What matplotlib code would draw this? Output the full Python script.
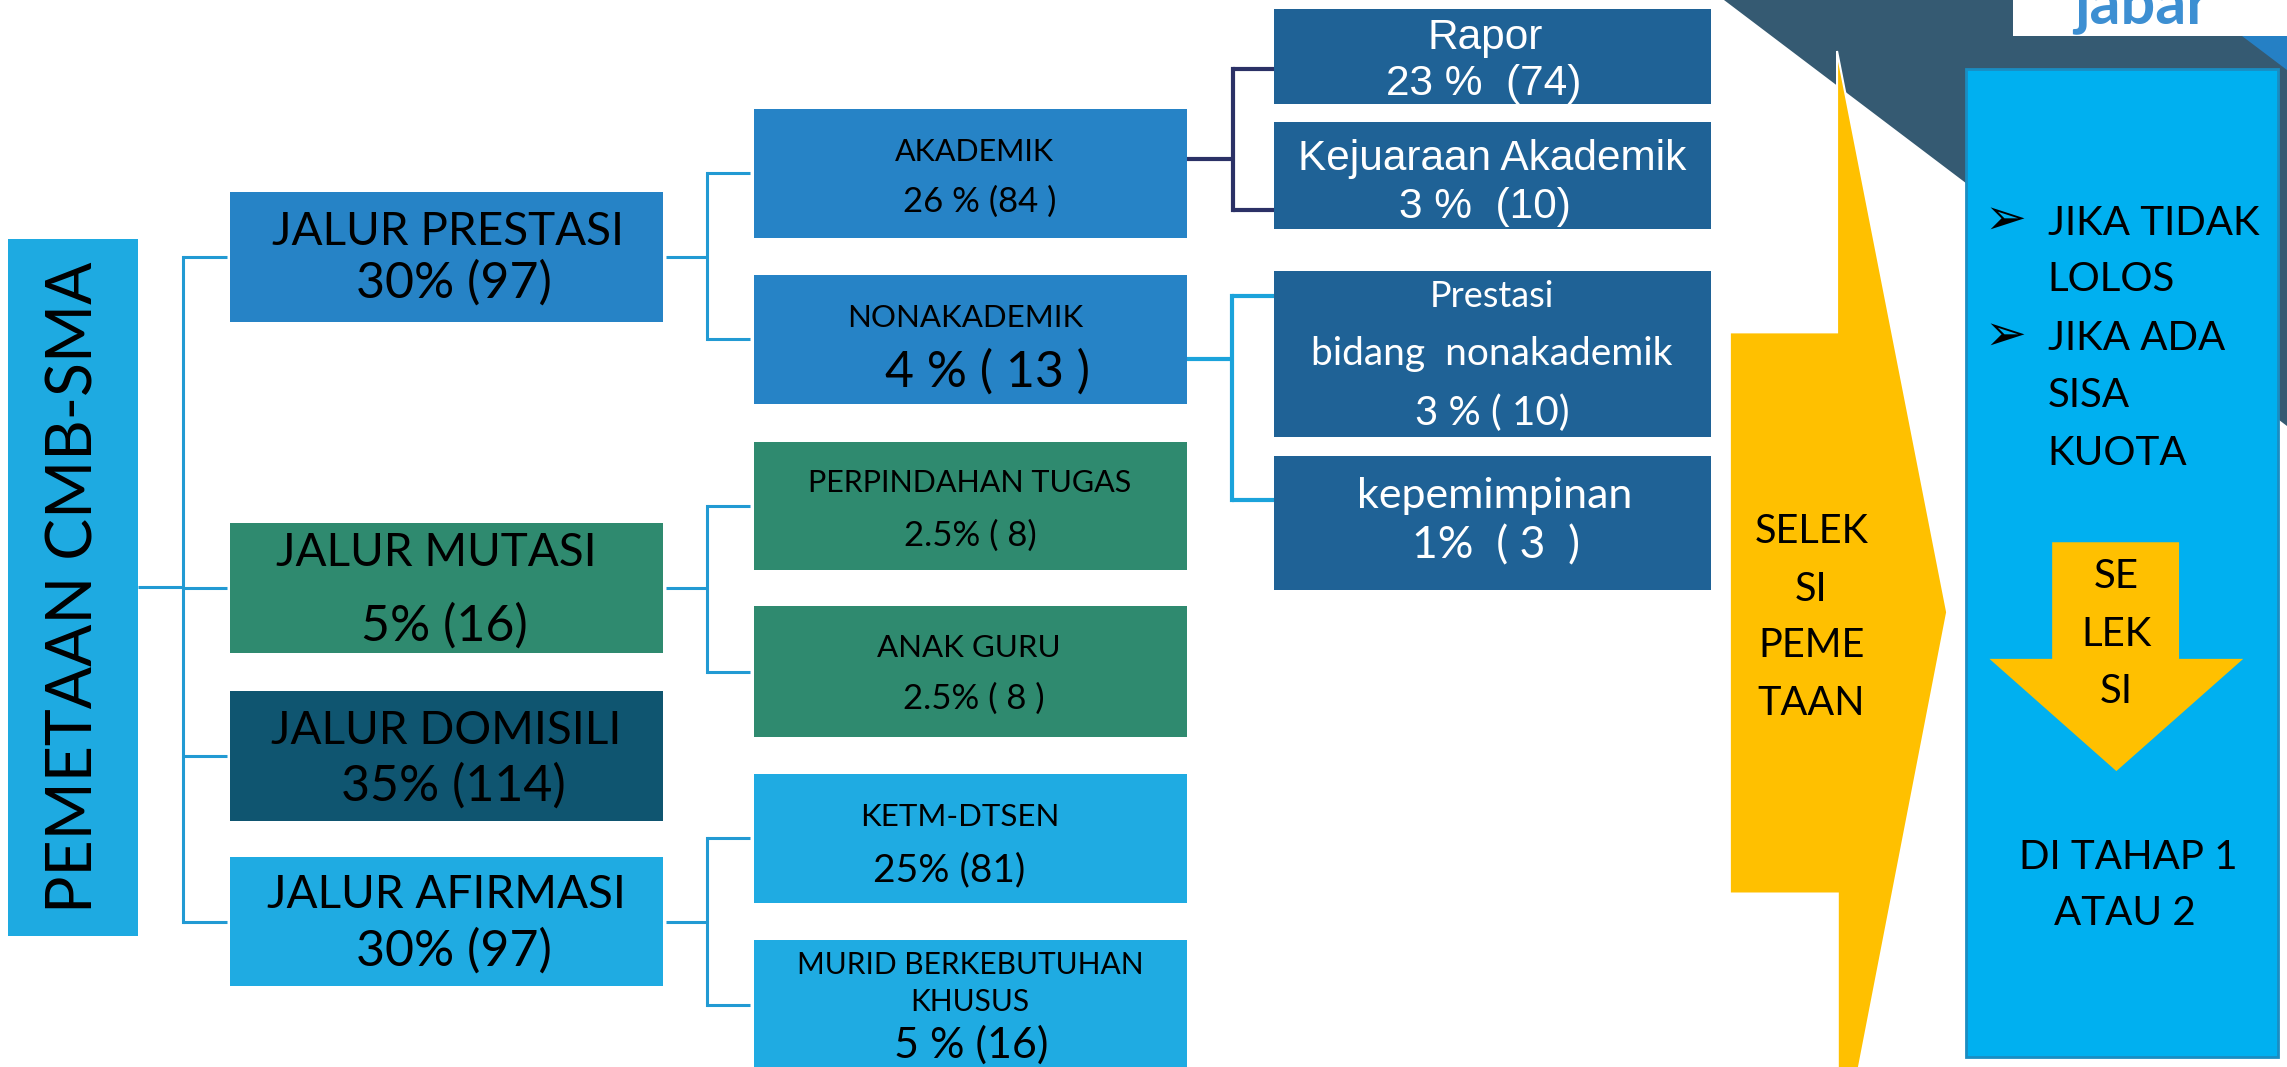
import matplotlib
matplotlib.use("Agg")
import matplotlib.pyplot as plt
from matplotlib.patches import Polygon, Rectangle

# ---- content -------------------------------------------------------------
root_label = "PEMETAAN CMB-SMA"

jalur_names = ["JALUR PRESTASI", "JALUR MUTASI", "JALUR DOMISILI", "JALUR AFIRMASI"]
jalur_values = ["30% (97)", "5% (16)", "35% (114)", "30% (97)"]

sub_names = ["AKADEMIK", "NONAKADEMIK", "PERPINDAHAN TUGAS", "ANAK GURU",
             "KETM-DTSEN", "MURID BERKEBUTUHAN\nKHUSUS"]
sub_values = ["26 % (84 )", "4 % ( 13 )", "2.5% ( 8)", "2.5% ( 8 )", "25% (81)", "5 % (16)"]
sub_parent = [0, 0, 1, 1, 3, 3]

detail_names = ["Rapor", "Kejuaraan Akademik", "Prestasi\nbidang  nonakademik", "kepemimpinan"]
detail_values = ["23 %  (74)", "3 %  (10)", "3 % ( 10)", "1%  ( 3  )"]

selection_label = ["SELEK", "SI", "PEME", "TAAN"]
note_lines = ["JIKA TIDAK", "LOLOS", "JIKA ADA", "SISA", "KUOTA"]
note_bullets = [True, False, True, False, False]
inner_arrow_label = ["SE", "LEK", "SI"]
stage_lines = ["DI TAHAP 1", "ATAU 2"]
logo_text = "jabar"

# ---- layout (canvas units: 1568 x 732, y down) ---------------------------
W, H = 1568, 732
FUT = ["Lato", "DejaVu Sans"]
ARI = ["Liberation Sans", "DejaVu Sans"]
K = 0.341  # half cap height per point, in canvas units

root_box = (5.7, 164, 94.9, 642)
col1_x = (157.7, 454.6)
col1_y = [(131.6, 220.8), (359, 448), (474, 563), (588, 676.5)]
col1_colors = ["#2683C6", "#2F8A6F", "#0F5570", "#1FABE2"]
col1_text = [[(307, 157), (311, 192)], [(299, 377), (305, 427)],
             [(306, 499), (311, 537)], [(306, 612), (311, 650)]]

col2_x = (516.7, 814)
col2_y = [(75, 163), (188.6, 277), (303, 391), (416, 505.5), (530.7, 619.3), (645, 740)]
col2_text = [[(668, 103, 22), (672, 137, 25)],
             [(662, 217, 22.5), (677, 253, 36)],
             [(665, 330, 22), (665, 366, 25)],
             [(664, 443, 22.5), (668, 478, 25)],
             [(658, 559, 22.5), (651, 595, 28)],
             [(665, 661, 21.5), (665, 686, 21.5), (666, 715, 31)]]

col3_x = (873.6, 1173)
col3_y = [(6.2, 71.5), (83.5, 157), (185.8, 300), (312.7, 404.5)]
col3_color = "#1F6296"
col3_text = [[(1018, 23, 30.5, ARI), (1017, 55, 30.5, ARI)],
             [(1023, 106, 30.5, ARI), (1018, 139, 30.5, ARI)],
             [(1023, 202, 26, FUT), (1023, 241, 28, FUT), (1023, 282, 29, FUT)],
             [(1025, 338, 31, FUT), (1026, 372, 32, FUT)]]

line_col = "#229AD3"

fig = plt.figure(figsize=(22.87, 10.67), dpi=100)
ax = fig.add_axes([0, 0, 1, 1])
ax.set_xlim(0, W)
ax.set_ylim(H, 0)
ax.axis("off")


def put(x, y, s, size, family=FUT, color="black", ha="center", **kw):
    ax.text(x, y + K * size, s, fontsize=size, family=family, color=color,
            ha=ha, va="baseline", **kw)


def box(x0, y0, x1, y1, color, **kw):
    ax.add_patch(Rectangle((x0, y0), x1 - x0, y1 - y0, facecolor=color,
                           edgecolor="none", **kw))


def elbow(x0, y0, xbus, ys, x1, color, lw):
    ax.plot([x0, xbus], [y0, y0], color=color, lw=lw, solid_capstyle="butt")
    ax.plot([xbus, xbus], [min(ys), max(ys)], color=color, lw=lw, solid_capstyle="projecting")
    for y in ys:
        ax.plot([xbus, x1], [y, y], color=color, lw=lw, solid_capstyle="butt")


# background decoration top right
ax.add_patch(Polygon([(1182, 0), (W, 0), (W, 292)], closed=True,
                     facecolor="#355A72", edgecolor="none"))
box(1380, 0, W, 24.5, "white")
ax.add_patch(Polygon([(1537, 24.5), (W, 24.5), (W, 48)], closed=True,
                     facecolor="#2580C5", edgecolor="none"))
ax.text(1468, 16, logo_text, fontsize=44, family=FUT, weight="bold",
        color="#3D8FD2", ha="center", va="baseline", clip_on=True)

# root box
box(*root_box, "#1EAAE1")
ax.text(63.5, (root_box[1] + root_box[3]) / 2, root_label, fontsize=45, family=FUT,
        rotation=90, rotation_mode="anchor", ha="center", va="baseline")

# connectors root -> jalur
c1_mid = [(a + b) / 2 for a, b in col1_y]
elbow(root_box[2], (root_box[1] + root_box[3]) / 2, 125.7, c1_mid, 155.5, line_col, 2.2)

# jalur boxes
for i, name in enumerate(jalur_names):
    y0, y1 = col1_y[i]
    box(col1_x[0], y0, col1_x[1], y1, col1_colors[i])
    (tx, ty), (vx, vy) = col1_text[i]
    put(tx, ty, name, 33)
    put(vx, vy, jalur_values[i], 36)

# connectors jalur -> sub categories
for p in sorted(set(sub_parent)):
    kids = [j for j, q in enumerate(sub_parent) if q == p]
    ys = [min((col2_y[j][0] + col2_y[j][1]) / 2, 689.5) for j in kids]
    elbow(col1_x[1] + 2, c1_mid[p], 484.8, ys, 514, line_col, 2.2)

# sub-category boxes
for j, name in enumerate(sub_names):
    y0, y1 = col2_y[j]
    box(col2_x[0], y0, col2_x[1], y1, col1_colors[sub_parent[j]])
    lines = name.split("\n") + [sub_values[j]]
    for s, (tx, ty, sz) in zip(lines, col2_text[j]):
        put(tx, ty, s, sz)

# connectors sub -> detail
elbow(col2_x[1], 109, 845.6, [47.5, 144], 873.6, "#2B3166", 3.0)
elbow(col2_x[1], 246, 844.4, [203.4, 342.8], 873.6, "#1BA3DB", 3.0)

# detail boxes
for k, name in enumerate(detail_names):
    y0, y1 = col3_y[k]
    box(col3_x[0], y0, col3_x[1], y1, col3_color)
    lines = name.split("\n") + [detail_values[k]]
    for s, (tx, ty, sz, fam) in zip(lines, col3_text[k]):
        put(tx, ty, s, sz, family=fam, color="white")

# big yellow selection arrow
ax.add_patch(Polygon([(1259.5, 35), (1335, 420), (1273, 740), (1260, 740),
                      (1260, 613), (1186, 613), (1186, 228), (1259.5, 228)],
                     closed=True, facecolor="#FFC000", edgecolor="white", lw=1.5))
for s, y in zip(selection_label, [362.5, 402.3, 441.2, 480.6]):
    put(1242, y, s, 28.5)

# note box
ax.add_patch(Rectangle((1348, 47), 1562 - 1348, 725 - 47, facecolor="#00B0F0",
                       edgecolor="#1A8DC2", lw=2))
for s, b, y in zip(note_lines, note_bullets, [151, 190, 230, 269, 309]):
    put(1404, y, s, 29, ha="left")
    if b:
        ax.text(1375, y, "\u27a2", fontsize=36, family=["DejaVu Sans"],
                ha="center", va="center")

# small down arrow inside note box
ax.add_patch(Polygon([(1407, 372), (1494, 372), (1494, 452), (1538, 452),
                      (1451, 529), (1364, 452), (1407, 452)],
                     closed=True, facecolor="#FFC000", edgecolor="none"))
for s, y in zip(inner_arrow_label, [393.3, 433, 472.5]):
    put(1451, y, s, 29)
for s, (x, y) in zip(stage_lines, [(1459, 586), (1457, 624.4)]):
    put(x, y, s, 29)

fig.savefig("out.png", dpi=100)
